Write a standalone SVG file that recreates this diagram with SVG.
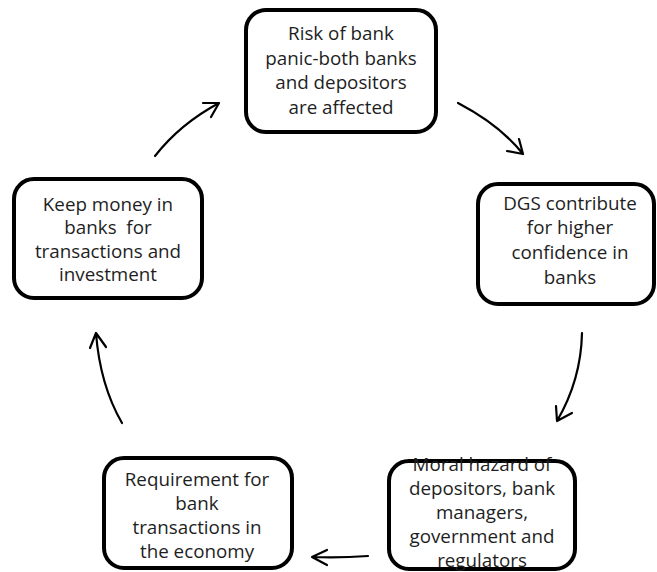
<svg xmlns="http://www.w3.org/2000/svg" width="657" height="572" viewBox="0 0 657 572">
<style>
.box{fill:#fff;stroke:#000;stroke-width:4}
.t{font-family:"Open Sans","Liberation Sans",sans-serif;font-size:18.8px;fill:#1e1e1e;text-anchor:middle;white-space:pre}
.c{fill:none;stroke:#000;stroke-width:2.2;stroke-linecap:round;stroke-linejoin:round}
</style>
<rect width="657" height="572" fill="#fff"/>
<g id="n-risk">
<rect class="box" x="246" y="10" width="190" height="122" rx="20"/>
<text class="t" x="341" y="40">Risk of bank</text>
<text class="t" x="341" y="64.7">panic-both banks</text>
<text class="t" x="341" y="89.4">and depositors</text>
<text class="t" x="341" y="114">are affected</text>
</g>
<g id="n-dgs">
<rect class="box" x="478" y="184" width="176" height="120" rx="20"/>
<text class="t" x="570" y="209.5">DGS contribute</text>
<text class="t" x="570" y="234.2">for higher</text>
<text class="t" x="570" y="258.9">confidence in</text>
<text class="t" x="570" y="283.5">banks</text>
</g>
<g id="n-moral">
<rect class="box" x="389" y="461" width="186" height="108" rx="20"/>
<text class="t" x="482" y="470.5">Moral hazard of</text>
<text class="t" x="482" y="494.5">depositors, bank</text>
<text class="t" x="482" y="518.5">managers,</text>
<text class="t" x="482" y="542.5">government and</text>
<text class="t" x="482" y="566.5">regulators</text>
</g>
<g id="n-req">
<rect class="box" x="104" y="458" width="188" height="110" rx="20"/>
<text class="t" x="197" y="485.5">Requirement for</text>
<text class="t" x="197" y="509.5">bank</text>
<text class="t" x="197" y="533.5">transactions in</text>
<text class="t" x="197" y="557.5">the economy</text>
</g>
<g id="n-keep">
<rect class="box" x="14" y="179" width="188" height="119" rx="20"/>
<text class="t" x="108" y="210.5">Keep money in</text>
<text class="t" x="108" y="234">banks  for</text>
<text class="t" x="108" y="257.5">transactions and</text>
<text class="t" x="108" y="281">investment</text>
</g>
<g id="connectors">
<path class="c" d="M155,156 Q180,124 219,103 M203,103 L219,103 L211,117"/>
<path class="c" d="M458,103 Q500,125 523,154 M507,151 L523,154 L519,139"/>
<path class="c" d="M582,333 Q581,380 557,421 M556,406 L557,421 L572,413"/>
<path class="c" d="M368,556 Q340,558 312,557 M327,550 L312,557 L327,565"/>
<path class="c" d="M122,423 Q100,385 96,333 M90,348 L96,333 L106,347"/>
</g>
</svg>
